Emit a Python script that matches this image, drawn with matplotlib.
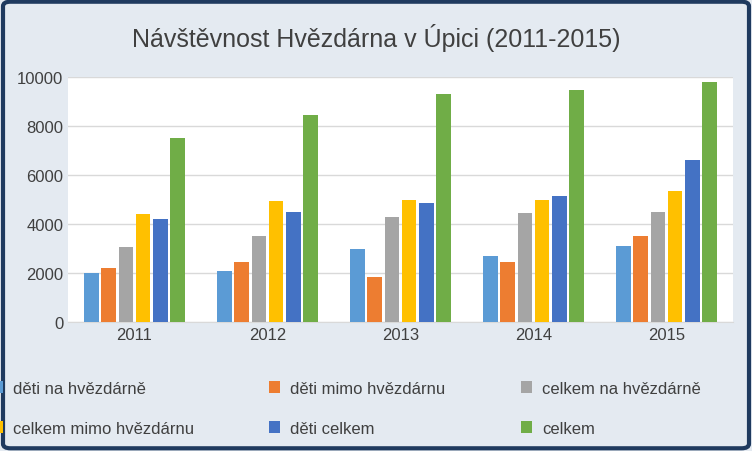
import matplotlib.pyplot as plt
import numpy as np
from matplotlib.patches import FancyBboxPatch

years = ["2011", "2012", "2013", "2014", "2015"]
series_names = ["děti na hvězdárně", "děti mimo hvězdárnu", "celkem na hvězdárně",
                "celkem mimo hvězdárnu", "děti celkem", "celkem"]
deti_na = [2000, 2100, 3000, 2700, 3100]
deti_mimo = [2200, 2450, 1850, 2450, 3500]
celkem_na = [3050, 3500, 4300, 4450, 4500]
celkem_mimo = [4400, 4950, 5000, 5000, 5350]
deti_celkem = [4200, 4500, 4850, 5150, 6600]
celkem = [7500, 8450, 9300, 9450, 9800]
colors = ["#5B9BD5", "#ED7D31", "#A5A5A5", "#FFC000", "#4472C4", "#70AD47"]

plt.rcParams["font.family"] = "Liberation Sans"
fig = plt.figure(figsize=(7.52, 4.52), dpi=100)
fig.patch.set_facecolor("#e4eaf1")
fig.patches.append(FancyBboxPatch((0.004, 0.006), 0.992, 0.988, boxstyle="round,pad=0,rounding_size=0.01",
                                  transform=fig.transFigure, facecolor="none",
                                  edgecolor="#1f3a5f", linewidth=3))

ax = fig.add_axes([68 / 752, 1 - 323 / 452, 665 / 752, 245 / 452])
ax.set_facecolor("white")
x = np.arange(len(years))
w = 0.11
step = 0.13
data = [deti_na, deti_mimo, celkem_na, celkem_mimo, deti_celkem, celkem]
bars = []
for i, (vals, name, c) in enumerate(zip(data, series_names, colors)):
    bars.append(ax.bar(x + (i - 2.5) * step, vals, w, color=c, label=name, zorder=3))

ax.set_ylim(0, 10000)
ax.set_yticks(range(0, 10001, 2000))
ax.set_xlim(-0.5, 4.5)
ax.set_xticks(x, years)
ax.yaxis.grid(True, color="#d9d9d9", linewidth=1, zorder=0)
ax.tick_params(length=0, labelsize=12, colors="#404040")
for s in ["top", "right", "left"]:
    ax.spines[s].set_visible(False)
ax.spines["bottom"].set_color("#d9d9d9")

fig.text(0.5, 0.916, "Návštěvnost Hvězdárna v Úpici (2011-2015)", ha="center", va="center",
         fontsize=18, color="#404040")

# legend is read row-wise in the reference, matplotlib fills columns first
order = [0, 3, 1, 4, 2, 5]
fig.legend([bars[i] for i in order], [series_names[i] for i in order],
           loc="lower center", bbox_to_anchor=(0.46, 0.0), ncol=3, frameon=False,
           fontsize=12, labelcolor="#404040", handlelength=0.7, handleheight=0.7,
           columnspacing=4.5, handletextpad=0.6, labelspacing=1.5)

fig.savefig("out.png", dpi=100, facecolor=fig.get_facecolor())
